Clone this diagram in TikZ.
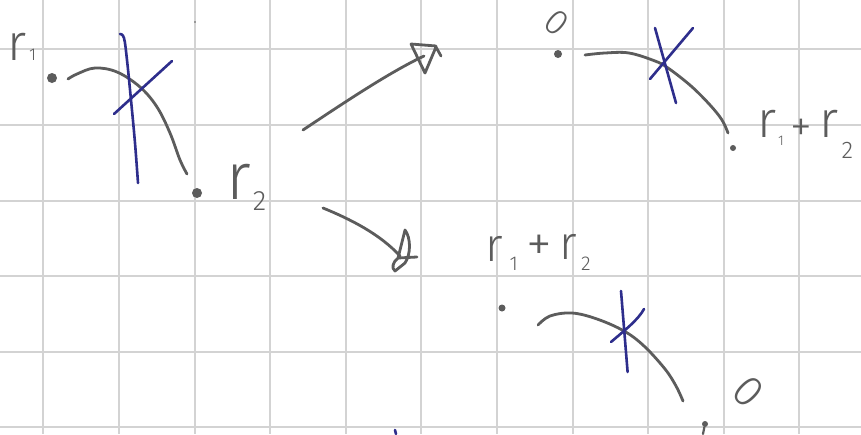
\documentclass[tikz,border=0pt]{standalone}
\usepackage{fontspec}
\newfontfamily\hand{Fira Sans Light}
\definecolor{ink}{HTML}{5C5C5C}
\definecolor{pen}{HTML}{2E2E8C}
\definecolor{gridc}{HTML}{D3D3D3}
\begin{document}
\begin{tikzpicture}[x=1pt,y=-1pt,
  gridline/.style={gridc, line width=2pt},
  stroke/.style={ink, line width=2.8pt, line cap=round, line join=round},
  bluestroke/.style={pen, line width=2.6pt, line cap=round, line join=round},
  txt/.style={ink, inner sep=0pt, anchor=base west, font=\hand},
  zero/.style={ink, inner sep=0pt, font=\hand},
  dotnode/.style={circle, fill=ink, inner sep=0pt},
]
\useasboundingbox (0,0) rectangle (861,434);
\fill[white] (0,0) rectangle (861,434);
\foreach \i in {0,...,10} \draw[gridline] ({43.3+75.6*\i},0) -- ({43.3+75.6*\i},434);
\foreach \j in {0,...,5} \draw[gridline] (0,{49.3+75.6*\j}) -- (861,{49.3+75.6*\j});

% ---------- top-left sketch ----------
\node[txt] (ra) at (7,60) {\fontsize{51}{51}\selectfont r\kern3pt{\fontsize{17}{17}\selectfont 1}};
\node[dotnode, minimum size=10pt] (p1) at (52,78) {};
\node[dotnode, minimum size=10pt] (p2) at (197,193) {};
\node[txt] (rb) at (226,199) {\fontsize{66}{66}\selectfont r\kern2pt\raisebox{-11pt}{\fontsize{28}{28}\selectfont 2}};
\node[dotnode, minimum size=1.6pt] (speck) at (195,22) {};
\draw[stroke] plot[smooth, tension=0.6] coordinates {(68,79) (77,74) (95,68) (117,72) (140,87) (157,107) (170,133) (180,160) (187,174)};
\draw[bluestroke] plot[smooth, tension=0.6] coordinates {(120,34) (124,38) (127,60) (131,100) (135,143) (138,183)};
\draw[bluestroke] (114,114) -- (172,61);

% ---------- arrow up ----------
\coordinate (ua) at (303,130);
\coordinate (ub) at (424,56);
\draw[stroke] (ua) .. controls (345,102) and (390,72) .. (ub);
\draw[stroke] (436,46) -- (411,44) -- (425,73) -- (436,47) -- (441,56);

% ---------- arrow down ----------
\coordinate (da) at (323,208);
\coordinate (db) at (400,256);
\draw[stroke] (da) .. controls (350,219) and (380,234) .. (db);
\draw[stroke] (398,258) -- (405,230) .. controls (411,238) and (411,254) .. (405,263) -- (395,271) .. controls (391,268) and (393,262) .. (398,258) -- (417,257);

% ---------- top-right sketch ----------
\node[zero, font=\hand\fontsize{36}{36}\selectfont, rotate=-40] (za) at (557,23) {0};
\node[dotnode, minimum size=8pt] (p3) at (558,54) {};
\node[dotnode, minimum size=6pt] (p4) at (733,148) {};
\node[txt] (rc) at (757,137) {\fontsize{51}{51}\selectfont r\kern2pt\raisebox{-8pt}{\fontsize{14}{14}\selectfont 1}\kern6pt\raisebox{-4pt}{\fontsize{44}{44}\selectfont +}\kern8pt r\kern3pt\raisebox{-21pt}{\fontsize{24}{24}\selectfont 2}};
\draw[stroke] plot[smooth, tension=0.6] coordinates {(585,55) (605,53) (629,53) (655,61) (668,68) (691,86) (710,105) (722,120) (728,133)};
\draw[bluestroke] (655,28) -- (676,103);
\draw[bluestroke] (650,79) -- (693,28);

% ---------- bottom-right sketch ----------
\node[txt] (rd) at (485,261) {\fontsize{47}{47}\selectfont r\kern7pt\raisebox{-9pt}{\fontsize{20}{20}\selectfont 1}\kern8pt{\fontsize{52}{52}\selectfont +}\kern8pt\raisebox{2pt}{r}\kern4pt\raisebox{-9pt}{\fontsize{20}{20}\selectfont 2}};
\node[dotnode, minimum size=7pt] (p5) at (502,308) {};
\node[dotnode, minimum size=6pt] (p6) at (705,424) {};
\draw[ink, line width=2.2pt, line cap=round] (p6) -- (703,434);
\node[zero, font=\hand\fontsize{44}{44}\selectfont, rotate=-45] (zb) at (748,392) {0};
\draw[stroke] plot[smooth, tension=0.6] coordinates {(538,325) (550,316) (572,313) (597,319) (624,331) (644,346) (665,369) (676,386) (683,401)};
\draw[bluestroke] (621,291) -- (627.6,372);
\draw[bluestroke] (611,342) .. controls (625,330) and (638,320) .. (644,309);
\draw[bluestroke] (395,430) -- (396,434);
\end{tikzpicture}
\end{document}
